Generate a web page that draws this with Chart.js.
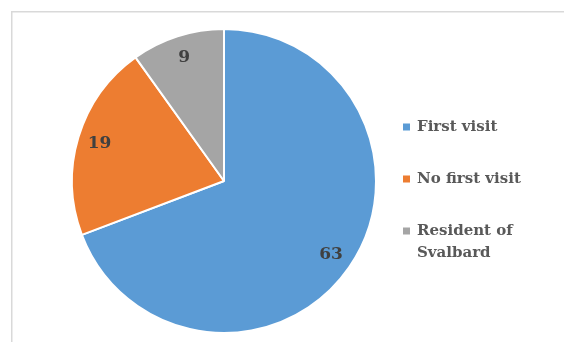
<!DOCTYPE html>
<html>
<head>
<meta charset="utf-8">
<script src="https://cdn.jsdelivr.net/npm/chart.js@4"></script>
<style>
  html, body { margin: 0; padding: 0; background: #ffffff; overflow: hidden; }
  .chart-container { position: relative; width: 564px; height: 342px; }
</style>
</head>
<body>
<div class="chart-container">
  <canvas id="visitChart"></canvas>
</div>
<script type="text/javascript">
  const categories = ["First visit", "No first visit", "Resident of Svalbard"];
  const legendLines = [["First visit"], ["No first visit"], ["Resident of", "Svalbard"]];
  const visitCounts = [63, 19, 9];
  const sliceColors = ["#5B9BD5", "#ED7D31", "#A5A5A5"];

  const serif = "'DejaVu Serif', 'Liberation Serif', serif";

  // frame, slice values and legend, all drawn on the canvas
  const decorations = {
    id: "decorations",
    beforeDraw(chart) {
      const ctx = chart.ctx;
      ctx.save();
      ctx.strokeStyle = "#d9d9d9";
      ctx.lineWidth = 1.5;
      ctx.beginPath();
      ctx.moveTo(11.75, chart.height);
      ctx.lineTo(11.75, 11.75);
      ctx.lineTo(chart.width, 11.75);
      ctx.stroke();
      ctx.restore();
    },
    afterDatasetsDraw(chart) {
      const ctx = chart.ctx;
      const meta = chart.getDatasetMeta(0);
      ctx.save();
      ctx.font = "bold 17px " + serif;
      ctx.fillStyle = "#404040";
      ctx.textAlign = "center";
      ctx.textBaseline = "middle";
      meta.data.forEach(function (arc, i) {
        const mid = (arc.startAngle + arc.endAngle) / 2;
        const r = arc.outerRadius * 0.855;
        ctx.fillText(String(visitCounts[i]), arc.x + Math.cos(mid) * r, arc.y + Math.sin(mid) * r);
      });

      // legend
      const legendX = 403;
      const rowY = [127, 179, 231];
      ctx.font = "bold 15px " + serif;
      ctx.textAlign = "left";
      ctx.textBaseline = "middle";
      legendLines.forEach(function (lines, i) {
        ctx.fillStyle = sliceColors[i];
        ctx.fillRect(legendX, rowY[i] - 3.5, 7, 7);
        ctx.fillStyle = "#595959";
        lines.forEach(function (line, j) {
          ctx.fillText(line, legendX + 14, rowY[i] + j * 22);
        });
      });
      ctx.restore();
    }
  };

  new Chart("visitChart", {
    type: "pie",
    data: {
      labels: categories,
      datasets: [{
        data: visitCounts,
        backgroundColor: sliceColors,
        borderColor: "#ffffff",
        borderWidth: 2
      }]
    },
    options: {
      responsive: true,
      maintainAspectRatio: false,
      animation: false,
      layout: {
        padding: { top: 28, bottom: 8, left: 71, right: 187 }
      },
      plugins: {
        legend: { display: false },
        tooltip: { enabled: false }
      }
    },
    plugins: [decorations]
  });
</script>
</body>
</html>
